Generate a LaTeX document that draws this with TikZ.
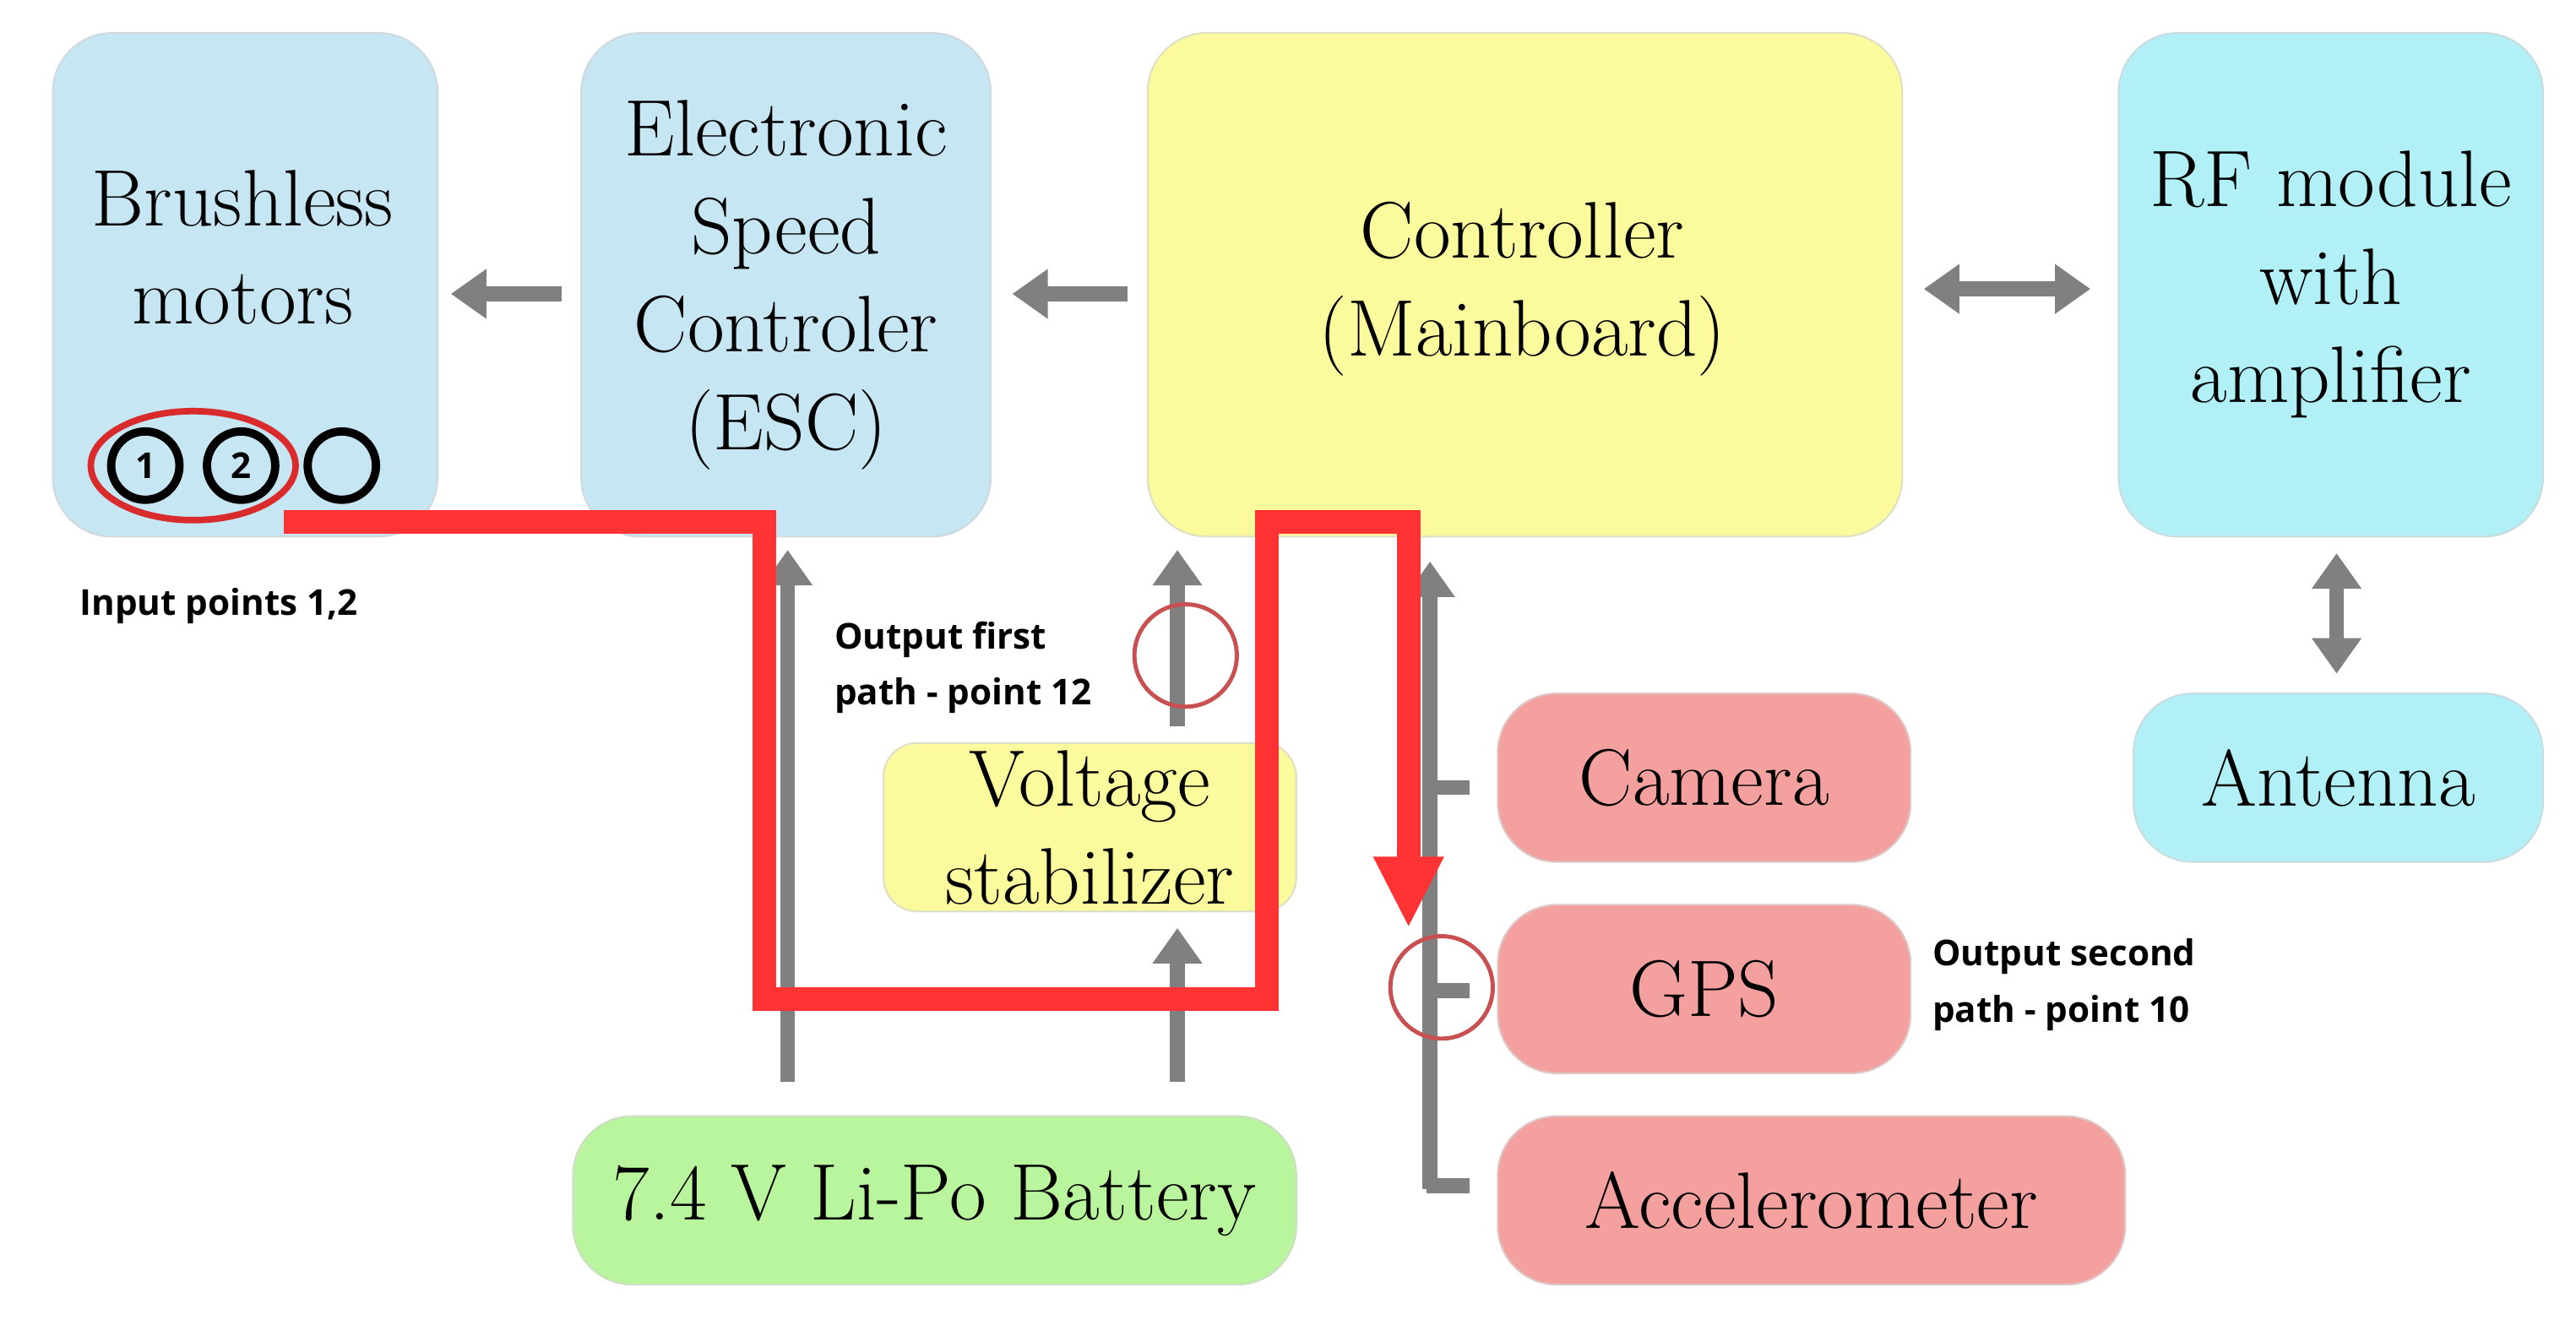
\documentclass[tikz,border=0pt]{standalone}
\usepackage{fontspec}
\newfontfamily\lab{Open Sans}
\usetikzlibrary{arrows.meta}
\definecolor{bl}{HTML}{C6E6F3}
\definecolor{yl}{HTML}{FBFB9E}
\definecolor{cy}{HTML}{B0F0F6}
\definecolor{pk}{HTML}{F4A09E}
\definecolor{gr}{HTML}{B8F59C}
\definecolor{ar}{HTML}{808080}
\definecolor{rd}{HTML}{FF3333}
\definecolor{rc}{HTML}{C85050}
\begin{document}
\begin{tikzpicture}[x=0.01955cm,y=-0.01955cm,
 box/.style={draw=#1!70!black!40, line width=0.6pt, fill=#1, rounded corners=0.7cm, align=center, font=\fontsize{27}{33}\selectfont, inner sep=0pt},
 garr/.style={draw=ar, line width=5pt, -{Triangle[length=12pt,width=16pt]}},
 gln/.style={draw=ar, line width=5pt},
 lbl/.style={font=\lab\fontsize{12}{19}\selectfont\bfseries, align=left, anchor=north west, inner sep=0pt},
 num/.style={circle, draw=black, line width=2.8pt, minimum size=23pt, inner sep=0pt, font=\lab\fontsize{12}{12}\selectfont\bfseries}]
\useasboundingbox (0,0) rectangle (1560,799);
\node[box=bl, minimum width=233*0.01955cm, minimum height=305*0.01955cm] (bm) at (148.5,172.5) {};
\node[font=\fontsize{27}{33}\selectfont, align=center] (bmt) at (147,150) {Brushless\\motors};
\node[box=bl, minimum width=248*0.01955cm, minimum height=305*0.01955cm] (esc) at (476,172.5) {Electronic\\Speed\\Controler\\(ESC)};
\node[box=yl, minimum width=457*0.01955cm, minimum height=305*0.01955cm] (ctl) at (923.5,172.5) {};
\node[font=\fontsize{27}{33}\selectfont, align=center] (ctlt) at (922,175) {Controller\\(Mainboard)};
\node[box=cy, minimum width=257*0.01955cm, minimum height=305*0.01955cm] (rf) at (1411.5,172.5) {RF module\\with\\amplifier};
\node[box=cy, minimum width=248*0.01955cm, minimum height=102*0.01955cm] (ant) at (1416,471) {Antenna};
\node[box=pk, minimum width=250*0.01955cm, minimum height=102*0.01955cm] (cam) at (1032,471) {Camera};
\node[box=pk, minimum width=250*0.01955cm, minimum height=102*0.01955cm] (gps) at (1032,599) {GPS};
\node[box=pk, minimum width=380*0.01955cm, minimum height=102*0.01955cm] (acc) at (1097,727) {Accelerometer};
\node[box=yl, minimum width=250*0.01955cm, minimum height=102*0.01955cm, rounded corners=0.4cm] (vs) at (660,501) {Voltage\\stabilizer};
\node[box=gr, minimum width=438*0.01955cm, minimum height=102*0.01955cm] (bat) at (566,727) {7.4 V Li-Po Battery};
% gray arrows
\coordinate (a1) at (340,178); \coordinate (a2) at (273,178);
\draw[garr] (a1) -- (a2);
\coordinate (b1) at (683,178); \coordinate (b2) at (613,178);
\draw[garr] (b1) -- (b2);
\coordinate (c1) at (1165,175); \coordinate (c2) at (1266,175);
\draw[garr,{Triangle[length=12pt,width=16pt]}-{Triangle[length=12pt,width=16pt]}] (c1) -- (c2);
\coordinate (d1) at (1415,335); \coordinate (d2) at (1415,408);
\draw[garr,{Triangle[length=12pt,width=16pt]}-{Triangle[length=12pt,width=16pt]}] (d1) -- (d2);
\coordinate (e1) at (477,655); \coordinate (e2) at (477,333);
\draw[garr] (e1) -- (e2);
\coordinate (f1) at (713,655); \coordinate (f2) at (713,562);
\draw[garr] (f1) -- (f2);
\coordinate (g1) at (713,440); \coordinate (g2) at (713,333);
\draw[garr] (g1) -- (g2);
\coordinate (h1) at (866,720); \coordinate (h2) at (866,340);
\draw[garr] (h1) -- (h2);
\coordinate (s1) at (864,477); \coordinate (s2) at (890,477);
\coordinate (s3) at (864,600); \coordinate (s4) at (890,600);
\coordinate (s5) at (864,718); \coordinate (s6) at (890,718);
\draw[gln] (s1) -- (s2); \draw[gln] (s3) -- (s4); \draw[gln] (s5) -- (s6);
% numbered circles
\node[num] (n1) at (88,282) {1};
\node[num] (n2) at (146,282) {2};
\node[num] (n3) at (207,282) {};
\draw[rd!85!black, line width=2.2pt] (117,282) ellipse [x radius=62, y radius=33];
% red path
\coordinate (r0) at (172,316); \coordinate (r1) at (463,316); \coordinate (r2) at (463,605);
\coordinate (r3) at (767,605); \coordinate (r4) at (767,316); \coordinate (r5) at (853,316);
\coordinate (r6) at (853,562);
\draw[rd, line width=8pt, miter limit=10, -{Triangle[length=24pt,width=22pt]}] (r0) -- (r1) -- (r2) -- (r3) -- (r4) -- (r5) -- (r6);
\draw[rc, line width=1.4pt] (718,397) circle (31);
\draw[rc, line width=1.4pt] (873,598) circle (31);
% labels
\node[lbl] (l1) at (48,356) {Input points 1,2};
\node[lbl] (l2) at (505,376) {Output first\\path - point 12};
\node[lbl] (l3) at (1170,568) {Output second\\path - point 10};
\end{tikzpicture}
\end{document}
